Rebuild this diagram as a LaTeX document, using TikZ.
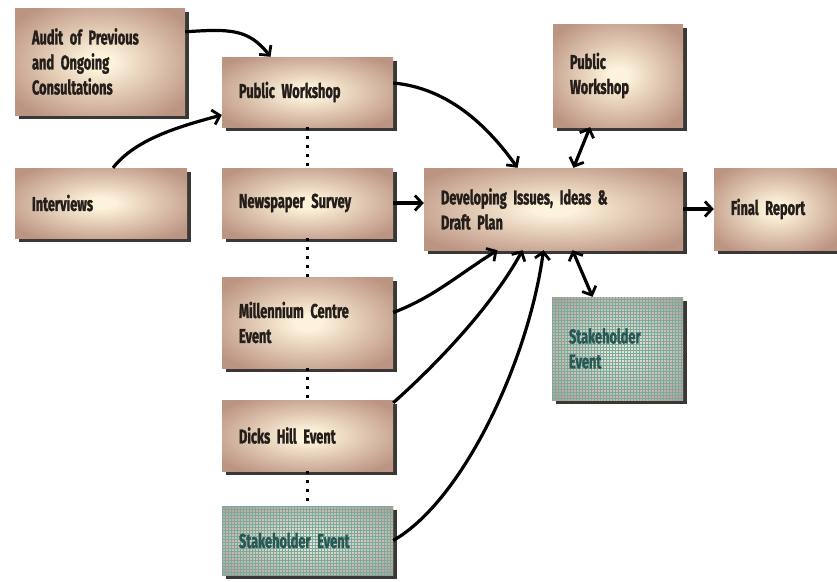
\documentclass[tikz,border=0pt]{standalone}
\usepackage{fontspec}
\setmainfont{Fira Sans}[FakeStretch=0.64, BoldFeatures={FakeBold=1.3}]
\usetikzlibrary{arrows.meta,shadows,patterns,calc}
\definecolor{boxout}{RGB}{188,148,130}
\definecolor{boxin}{RGB}{253,242,218}
\definecolor{coolout}{RGB}{186,160,146}
\definecolor{coolin}{RGB}{232,230,210}
\definecolor{shadowc}{RGB}{58,56,54}
\definecolor{txt}{RGB}{36,30,26}
\definecolor{teal}{RGB}{40,88,84}
\definecolor{gridc}{RGB}{120,170,162}
\pgfdeclareradialshading{warm}{\pgfpoint{0bp}{0bp}}{color(0bp)=(boxin); color(4bp)=(boxin); color(31bp)=(boxout); color(50bp)=(boxout)}
\pgfdeclareradialshading{cool}{\pgfpoint{0bp}{0bp}}{color(0bp)=(coolin); color(4bp)=(coolin); color(34bp)=(coolout); color(50bp)=(coolout)}
\tikzset{
  box/.style={rectangle, shading=warm, inner xsep=17pt, inner ysep=0pt, align=left,
    text=txt, font=\bfseries\fontsize{20}{25}\selectfont,
    general shadow={fill=shadowc, shadow xshift=3.5pt, shadow yshift=-4pt}},
  coolbox/.style={box, shading=cool, text=teal,
    postaction={pattern=grid, pattern color=gridc}},
  arr/.style={line width=3.2pt, draw=black, -{Straight Barb[length=7pt,width=15pt,line width=2.8pt]}},
  darr/.style={line width=3.2pt, draw=black, {Straight Barb[length=7pt,width=15pt,line width=2.8pt]}-{Straight Barb[length=7pt,width=15pt,line width=2.8pt]}},
  dots/.style={line width=3pt, draw=black, dash pattern=on 3pt off 6pt}
}
\begin{document}
\begin{tikzpicture}[x=1pt,y=-1pt]
\useasboundingbox[fill=white] (0,0) rectangle (837,581);
% nodes
\node[box, minimum width=170pt, minimum height=107pt, text width=136pt] (audit) at (100,61.5) {Audit of Previous\\and Ongoing\\Consultations};
\node[box, minimum width=171pt, minimum height=70pt, text width=137pt] (pw1) at (307.5,92) {Public Workshop};
\node[box, minimum width=172pt, minimum height=70pt, text width=138pt] (interviews) at (101,203) {Interviews};
\node[box, minimum width=171pt, minimum height=70pt, text width=137pt] (news) at (307.5,203) {Newspaper Survey};
\node[box, minimum width=171pt, minimum height=91pt, text width=137pt] (mill) at (307.5,322.5) {Millennium Centre\\Event};
\node[box, minimum width=171pt, minimum height=71pt, text width=137pt] (dicks) at (307.5,435.5) {Dicks Hill Event};
\node[coolbox, minimum width=171pt, minimum height=69pt, text width=137pt] (stake1) at (307.5,540.5) {Stakeholder Event};
\node[box, minimum width=259pt, minimum height=82pt, text width=225pt] (dev) at (553.5,209) {Developing Issues, Ideas \&\\Draft Plan};
\node[box, minimum width=130pt, minimum height=103pt, text width=96pt] (pw2) at (618,75.5) {Public\\Workshop\\[12pt]};
\node[box, minimum width=125pt, minimum height=82pt, text width=91pt] (final) at (776.5,209) {Final Report};
\node[coolbox, minimum width=131pt, minimum height=103pt, text width=97pt] (stake2) at (617.5,348.5) {Stakeholder\\Event\\[10pt]};
% dotted links
\draw[dots] (pw1.south) -- (news.north);
\draw[dots] (news.south) -- (mill.north);
\draw[dots] (mill.south) -- (dicks.north);
\draw[dots] (dicks.south) -- (stake1.north);
% arrows
\draw[arr] ([yshift=-24pt]audit.north east) .. controls +(45,-3) and +(-22,-28) .. ([xshift=-37pt]pw1.north);
\draw[arr] ([xshift=12pt]interviews.north) .. controls +(22,-28) and +(-45,12) .. ([yshift=-23pt]pw1.west);
\draw[arr] ([yshift=9pt]pw1.east) .. controls +(55,5) and +(-30,-42) .. ([xshift=-36pt]dev.north);
\draw[arr] (news.east) -- (news.east -| dev.west);
\draw[arr] (dev.east) -- (final.west);
\draw[darr] ([xshift=20pt]dev.north) -- ([xshift=-28pt]pw2.south);
\draw[darr] ([xshift=19pt]dev.south) -- ([xshift=-25pt]stake2.north);
\draw[arr] ([yshift=10pt]mill.east) .. controls +(40,-15) and +(-40,25) .. ([xshift=-56pt]dev.south);
\draw[arr] ([yshift=-3pt]dicks.north east) .. controls +(45,-40) and +(-30,55) .. ([xshift=-31pt]dev.south);
\draw[arr] (stake1.east) .. controls +(70,-40) and +(-15,110) .. ([xshift=-10pt]dev.south);
\end{tikzpicture}
\end{document}
